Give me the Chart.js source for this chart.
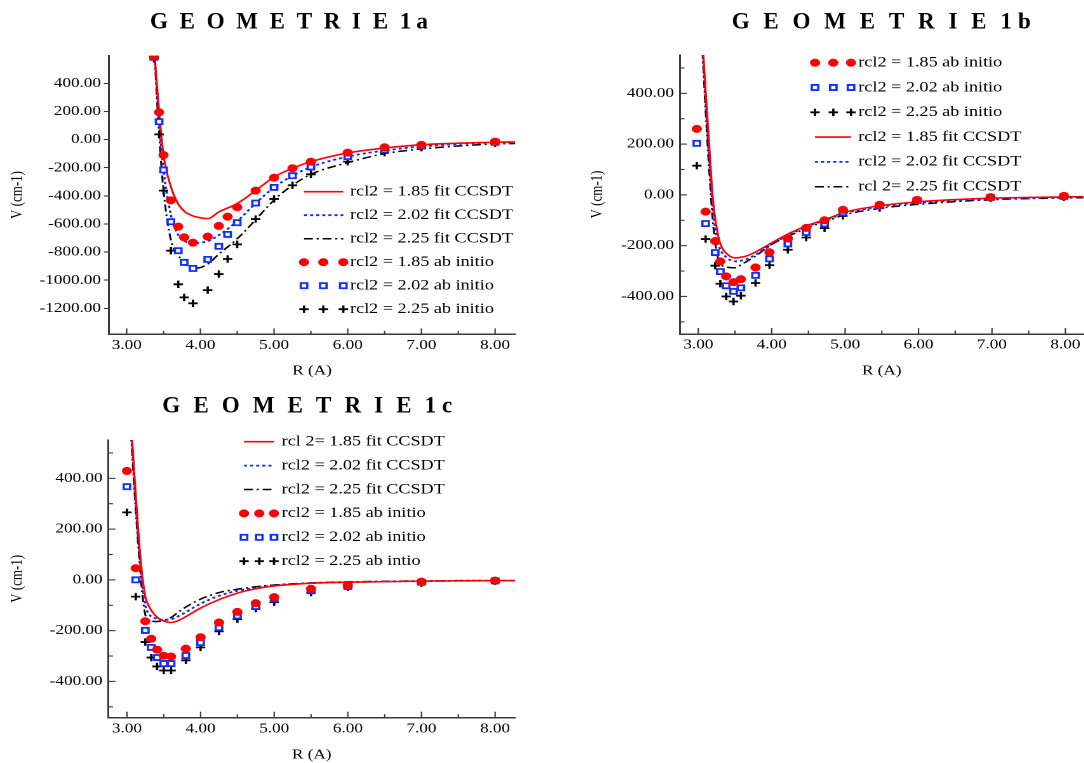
<!DOCTYPE html>
<html>
<head>
<meta charset="utf-8">
<script src="https://cdn.jsdelivr.net/npm/chart.js@4.4.1/dist/chart.umd.min.js"></script>
<style>
  html, body { margin: 0; padding: 0; background: #fff; width: 1084px; height: 763px; overflow: hidden; }
  body { position: relative; }
  .panel { position: absolute; }
  .panel canvas { display: block; transform-origin: 0 0; }
</style>
</head>
<body>
<div id="p1a" class="panel"></div>
<div id="p1b" class="panel"></div>
<div id="p1c" class="panel"></div>
<script>
// ---------- Geometrie 1a ----------
const R_1A_ABINIT = [3.37, 3.44, 3.50, 3.60, 3.70, 3.78, 3.90, 4.10, 4.25, 4.37, 4.50, 4.75, 5.00, 5.25, 5.50, 6.00, 6.50, 7.00, 8.00];
const V_1A_ABINIT_185 = [590, 194, -110, -432, -619, -695, -733, -690, -614, -548, -481, -363, -271, -204, -157, -93, -55, -38, -15];
const V_1A_ABINIT_202 = [585, 127, -216, -584, -790, -873, -916, -852, -759, -674, -591, -451, -340, -257, -195, -121, -74, -46, -19];
const V_1A_ABINIT_225 = [575, 37, -363, -790, -1029, -1122, -1164, -1070, -956, -849, -745, -565, -422, -325, -247, -157, -93, -58, -26];
const R_1A_FIT = [3.38, 3.44, 3.50, 3.60, 3.70, 3.80, 3.90, 4.00, 4.10, 4.25, 4.50, 4.75, 5.00, 5.25, 5.50, 6.00, 6.50, 7.00, 8.00, 8.30];
const V_1A_FIT_185 = [590, 198, -110, -335, -458, -517, -543, -556, -562, -515, -455, -363, -266, -204, -157, -95, -60, -36, -19, -17];
const V_1A_FIT_202 = [585, 127, -216, -536, -678, -726, -738, -733, -722, -680, -580, -453, -340, -257, -195, -121, -78, -49, -20, -18];
const V_1A_FIT_225 = [575, 37, -363, -714, -821, -885, -916, -910, -885, -815, -705, -570, -430, -325, -247, -164, -100, -67, -31, -28];

// ---------- Geometrie 1b ----------
const R_1B_ABINIT = [2.98, 3.10, 3.23, 3.30, 3.38, 3.48, 3.58, 3.78, 3.97, 4.22, 4.47, 4.72, 4.97, 5.47, 5.98, 6.98, 7.98];
const V_1B_ABINIT_185 = [260, -66, -182, -262, -321, -344, -332, -286, -226, -172, -130, -100, -59, -39, -20, -9, -4];
const V_1B_ABINIT_202 = [203, -113, -227, -302, -358, -380, -366, -317, -252, -193, -148, -114, -70, -43, -22, -10, -6];
const V_1B_ABINIT_225 = [115, -174, -279, -350, -400, -420, -397, -347, -277, -216, -168, -131, -83, -52, -26, -13, -9];
const R_1B_FIT = [3.00, 3.05, 3.10, 3.15, 3.20, 3.25, 3.30, 3.40, 3.50, 3.60, 3.70, 3.80, 4.00, 4.25, 4.50, 4.75, 5.00, 5.50, 6.00, 7.00, 8.00, 8.30];
const V_1B_FIT_185 = [900, 640, 410, 190, -20, -130, -192, -235, -248, -245, -236, -222, -189, -150, -119, -95, -68, -42, -27, -13, -8, -7];
const V_1B_FIT_202 = [870, 620, 370, 140, -60, -170, -215, -250, -262, -258, -248, -232, -195, -155, -123, -98, -72, -46, -31, -16, -10, -9];
const V_1B_FIT_225 = [850, 600, 330, 90, -110, -225, -270, -285, -287, -272, -255, -237, -195, -160, -128, -103, -78, -52, -37, -19, -12, -11];

// ---------- Geometrie 1c ----------
const R_1C_ABINIT = [3.00, 3.12, 3.25, 3.33, 3.41, 3.50, 3.60, 3.80, 4.00, 4.25, 4.50, 4.75, 5.00, 5.50, 6.00, 7.00, 8.00];
const V_1C_ABINIT_185 = [429, 46, -163, -232, -275, -299, -302, -271, -226, -168, -126, -92, -68, -35, -22, -7, -3];
const V_1C_ABINIT_202 = [367, 0, -199, -266, -306, -330, -330, -298, -247, -188, -142, -105, -76, -43, -26, -9, -4];
const V_1C_ABINIT_225 = [266, -66, -245, -306, -341, -357, -357, -317, -266, -203, -155, -113, -88, -50, -29, -13, -5];
const R_1C_FIT = [3.00, 3.05, 3.10, 3.15, 3.20, 3.25, 3.30, 3.40, 3.50, 3.60, 3.70, 3.80, 4.00, 4.25, 4.50, 4.75, 5.00, 5.50, 6.00, 7.00, 8.00, 8.30];
const V_1C_FIT_185 = [900, 650, 420, 210, 39, -66, -104, -145, -162, -168, -160, -145, -111, -78, -52, -35, -24, -13, -9, -5, -3, -3];
const V_1C_FIT_202 = [880, 630, 390, 180, 10, -100, -135, -153, -157, -155, -143, -127, -94, -63, -43, -32, -22, -13, -9, -5, -3, -3];
const V_1C_FIT_225 = [860, 600, 360, 150, -30, -138, -158, -164, -160, -148, -127, -107, -76, -50, -37, -27, -20, -12, -8, -4, -3, -3];

// Tick positions (labels only on the whole numbers / multiples of 200)
const X_TICKS = [3.0, 3.5, 4.0, 4.5, 5.0, 5.5, 6.0, 6.5, 7.0, 7.5, 8.0];
const Y_TICKS_1A = [-1200, -1000, -800, -600, -400, -200, 0, 200, 400];
const Y_TICKS_1BC = [-500, -400, -300, -200, -100, 0, 100, 200, 300, 400, 500];

// Axis titles
const X_TITLE = 'R (A)';
const Y_TITLE = 'V (cm-1)';

// ---------- drawing setup ----------
const FONT = "'Liberation Serif', 'Times New Roman', Times, serif";
const S = 1.27;            // every panel is drawn narrow and widened by this factor
const AXIS_COLOR = '#3a3a3a';
const RED = '#ff0000', BLUE = '#1030ff', BLACK = '#000000';

const pts = (R, V) => R.map((r, i) => ({ x: r, y: V[i] }));

function abSet(label, R, V, kind) {
  const base = { label, data: pts(R, V), showLine: false, pointHoverRadius: 0 };
  if (kind === 'red') return Object.assign(base, { pointStyle: 'circle', pointRadius: 3.8, pointBorderWidth: 0.5,
    pointBackgroundColor: RED, pointBorderColor: RED, backgroundColor: RED, borderColor: RED });
  if (kind === 'blue') return Object.assign(base, { pointStyle: 'rect', pointRadius: 3.6, pointBorderWidth: 1.8,
    pointBackgroundColor: '#ffffff', pointBorderColor: BLUE, backgroundColor: '#ffffff', borderColor: BLUE });
  return Object.assign(base, { pointStyle: 'cross', pointRadius: 3.7, pointBorderWidth: 1.8,
    pointBackgroundColor: BLACK, pointBorderColor: BLACK, backgroundColor: BLACK, borderColor: BLACK });
}

function fitSet(label, R, V, kind) {
  const styles = {
    red:   { borderColor: RED,   borderDash: [],            borderWidth: 1.6 },
    blue:  { borderColor: '#0a28ff', borderDash: [2.4, 2.4], borderWidth: 1.8 },
    black: { borderColor: BLACK, borderDash: [7, 3, 1.6, 3], borderWidth: 1.5 }
  };
  return Object.assign({ label, data: pts(R, V), showLine: true, pointRadius: 0, pointHoverRadius: 0,
    fill: false, cubicInterpolationMode: 'monotone' }, styles[kind]);
}

// Spaced bold heading above each panel, kept at natural width despite the widening
const spacedTitle = {
  id: 'spacedTitle',
  afterDraw(chart, args, o) {
    const ctx = chart.ctx;
    ctx.save();
    ctx.translate(o.x, o.y);
    ctx.scale(1 / S, 1);
    ctx.font = 'bold 23px ' + FONT;
    ctx.fillStyle = '#000';
    ctx.textBaseline = 'alphabetic';
    ctx.textAlign = 'left';
    const natural = ctx.measureText(o.word).width;
    if ('letterSpacing' in ctx) {
      ctx.letterSpacing = o.spacing + 'px';
      ctx.fillText(o.word, 0, 0);
      const w = natural + o.word.length * o.spacing;
      ctx.letterSpacing = (o.spacing * 0.45) + 'px';
      ctx.fillText(o.tag, w, 0);
      ctx.letterSpacing = '0px';
    } else {
      let x = 0;
      for (const ch of o.word) { ctx.fillText(ch, x, 0); x += ctx.measureText(ch).width + o.spacing; }
      ctx.fillText(o.tag, x, 0);
    }
    ctx.restore();
  }
};

// Tick marks pointing into the plot
const innerTicks = {
  id: 'innerTicks',
  afterDatasetsDraw(chart, args, o) {
    const ctx = chart.ctx, area = chart.chartArea;
    const xs = chart.scales.x, ys = chart.scales.y;
    ctx.save();
    ctx.strokeStyle = AXIS_COLOR;
    ctx.lineWidth = 1.1;
    xs.ticks.forEach(t => {
      const px = xs.getPixelForValue(t.value);
      const len = Number.isInteger(t.value) ? 6 : 3.5;
      ctx.beginPath(); ctx.moveTo(px, area.bottom); ctx.lineTo(px, area.bottom - len); ctx.stroke();
    });
    if (o.yInner) {
      ys.ticks.forEach(t => {
        const py = ys.getPixelForValue(t.value);
        const len = (Math.round(t.value) % 200 === 0 ? 7 : 4.5) / S;
        ctx.beginPath(); ctx.moveTo(area.left, py); ctx.lineTo(area.left + len, py); ctx.stroke();
      });
    }
    ctx.restore();
  }
};

// Legend with three markers or a line sample per entry
const sampleLegend = {
  id: 'sampleLegend',
  afterDraw(chart, args, o) {
    const ctx = chart.ctx;
    ctx.save();
    ctx.font = '14.3px ' + FONT;
    ctx.textBaseline = 'middle';
    ctx.textAlign = 'left';
    o.order.forEach((di, i) => {
      const ds = chart.data.datasets[di];
      const y = o.y + i * o.dy;
      if (ds.showLine) {
        ctx.save();
        ctx.strokeStyle = ds.borderColor;
        ctx.lineWidth = ds.borderWidth;
        ctx.setLineDash(ds.borderDash || []);
        ctx.beginPath(); ctx.moveTo(o.line[0], y); ctx.lineTo(o.line[1], y); ctx.stroke();
        ctx.restore();
      } else {
        o.marks.forEach(mx => {
          ctx.save();
          ctx.fillStyle = ds.pointBackgroundColor;
          ctx.strokeStyle = ds.pointBorderColor;
          ctx.lineWidth = ds.pointBorderWidth;
          Chart.helpers.drawPoint(ctx, { pointStyle: ds.pointStyle, radius: ds.pointRadius,
            borderWidth: ds.pointBorderWidth, rotation: 0 }, mx, y);
          ctx.restore();
        });
      }
      ctx.fillStyle = '#000';
      ctx.fillText(ds.label, o.text, y);
    });
    ctx.restore();
  }
};

function buildPanel(P) {
  const wrap = document.getElementById(P.id);
  wrap.style.left = P.box.left + 'px';
  wrap.style.top = P.box.top + 'px';
  const cv = document.createElement('canvas');
  const preW = Math.round(P.box.width / S);
  cv.width = preW;
  cv.height = P.box.height;
  cv.style.transform = 'scaleX(' + S + ')';
  wrap.appendChild(cv);

  const px = sx => (sx - P.box.left) / S;     // page x -> canvas x
  const py = sy => sy - P.box.top;            // page y -> canvas y
  const yAxisW = px(P.plot.left);
  const xAxisH = P.box.top + P.box.height - P.plot.bottom;
  const padRight = Math.max(0, preW - px(P.plot.right));

  const datasets = [
    abSet(P.labels[0], P.abR, P.ab[0], 'red'),
    abSet(P.labels[1], P.abR, P.ab[1], 'blue'),
    abSet(P.labels[2], P.abR, P.ab[2], 'black'),
    fitSet(P.labels[3], P.fitR, P.fit[0], 'red'),
    fitSet(P.labels[4], P.fitR, P.fit[1], 'blue'),
    fitSet(P.labels[5], P.fitR, P.fit[2], 'black')
  ];

  new Chart(cv, {
    type: 'scatter',
    data: { datasets },
    plugins: [innerTicks, sampleLegend, spacedTitle],
    options: {
      responsive: false,
      animation: false,
      devicePixelRatio: 2,
      events: [],
      layout: { autoPadding: false, padding: { left: 0, top: py(P.plot.top), right: padRight, bottom: 0 } },
      plugins: {
        legend: { display: false },
        title: { display: false },
        tooltip: { enabled: false },
        innerTicks: { yInner: P.yInner },
        sampleLegend: {
          order: P.legend.order,
          marks: P.legend.marks.map(px),
          line: P.legend.line.map(px),
          text: px(P.legend.text),
          y: py(P.legend.y),
          dy: P.legend.dy
        },
        spacedTitle: { word: 'GEOMETRIE', tag: P.tag, x: px(P.title.x), y: py(P.title.base), spacing: P.title.spacing }
      },
      scales: {
        x: {
          type: 'linear', position: 'bottom', bounds: 'data',
          min: P.xRange[0], max: P.xRange[1],
          border: { display: true, color: AXIS_COLOR, width: 1.5 },
          grid: { display: true, drawOnChartArea: false, drawTicks: false },
          afterBuildTicks: s => { s.ticks = X_TICKS.map(v => ({ value: v })); },
          ticks: {
            autoSkip: false, maxRotation: 0, minRotation: 0,
            padding: 3, color: '#000', font: { family: FONT, size: 13.5 },
            callback: v => Number.isInteger(v) ? v.toFixed(2) : ''
          },
          title: { display: true, text: X_TITLE, color: '#000', font: { family: FONT, size: 13.5 },
            padding: { top: 0, bottom: P.xTitlePad } },
          afterFit: s => { s.height = xAxisH; }
        },
        y: {
          type: 'linear', position: 'left', bounds: 'data',
          min: P.yRange[0], max: P.yRange[1],
          border: { display: true, color: AXIS_COLOR, width: 1.5 },
          grid: { display: true, drawOnChartArea: false, drawTicks: !P.yInner, tickLength: 4, tickColor: AXIS_COLOR, tickWidth: 1.1 },
          afterBuildTicks: s => { s.ticks = P.yTicks.map(v => ({ value: v })); },
          ticks: {
            autoSkip: false,
            padding: P.yInner ? 4.7 : 2.3, color: '#000', font: { family: FONT, size: 13.5 },
            callback: v => (Math.round(v) % 200 === 0) ? v.toFixed(2) : ''
          },
          title: { display: true, text: Y_TITLE, color: '#000', font: { family: FONT, size: 13 },
            padding: { top: 5.6, bottom: 0 } },
          afterFit: s => { s.width = yAxisW; }
        }
      }
    }
  });
}

const PANELS = [
  {
    id: 'p1a', tag: '1a',
    box: { left: 0, top: 0, width: 520, height: 385 },
    plot: { left: 109, right: 515, top: 55.6, bottom: 334.4 },
    xRange: [2.76, 8.27], yRange: [-1385, 597], yTicks: Y_TICKS_1A, yInner: false, xTitlePad: 5.9,
    title: { x: 150, base: 28.3, spacing: 11.7 },
    labels: ['rcl2 = 1.85 ab initio', 'rcl2 = 2.02 ab initio', 'rcl2 = 2.25 ab initio',
             'rcl2 = 1.85 fit CCSDT', 'rcl2 = 2.02 fit CCSDT', 'rcl2 = 2.25 fit CCSDT'],
    abR: R_1A_ABINIT, ab: [V_1A_ABINIT_185, V_1A_ABINIT_202, V_1A_ABINIT_225],
    fitR: R_1A_FIT, fit: [V_1A_FIT_185, V_1A_FIT_202, V_1A_FIT_225],
    legend: { order: [3, 4, 5, 0, 1, 2], marks: [304, 323.3, 343.3], line: [304, 343.3], text: 350, y: 191.7, dy: 23.5 }
  },
  {
    id: 'p1b', tag: '1b',
    box: { left: 580, top: 0, width: 504, height: 385 },
    plot: { left: 680, right: 1084, top: 55, bottom: 334 },
    xRange: [2.751, 8.245], yRange: [-548, 551], yTicks: Y_TICKS_1BC, yInner: true, xTitlePad: 5.9,
    title: { x: 731.7, base: 28.3, spacing: 13.8 },
    labels: ['rcl2 = 1.85 ab initio', 'rcl2 = 2.02 ab initio', 'rcl2 = 2.25 ab initio',
             'rcl2 = 1.85 fit CCSDT', 'rcl2 = 2.02 fit CCSDT', 'rcl 2= 2.25 fit CCSDT'],
    abR: R_1B_ABINIT, ab: [V_1B_ABINIT_185, V_1B_ABINIT_202, V_1B_ABINIT_225],
    fitR: R_1B_FIT, fit: [V_1B_FIT_185, V_1B_FIT_202, V_1B_FIT_225],
    legend: { order: [0, 1, 2, 3, 4, 5], marks: [815, 833.3, 851], line: [815, 851], text: 858.3, y: 62.7, dy: 24.8 }
  },
  {
    id: 'p1c', tag: '1c',
    box: { left: 0, top: 388, width: 520, height: 375 },
    plot: { left: 108.5, right: 515, top: 440, bottom: 717.7 },
    xRange: [2.75, 8.27], yRange: [-543, 551], yTicks: Y_TICKS_1BC, yInner: true, xTitlePad: 0,
    title: { x: 162.3, base: 412.7, spacing: 13.1 },
    labels: ['rcl2 = 1.85 ab initio', 'rcl2 = 2.02 ab initio', 'rcl2 = 2.25 ab intio',
             'rcl 2= 1.85 fit CCSDT', 'rcl2 = 2.02 fit CCSDT', 'rcl2 = 2.25 fit CCSDT'],
    abR: R_1C_ABINIT, ab: [V_1C_ABINIT_185, V_1C_ABINIT_202, V_1C_ABINIT_225],
    fitR: R_1C_FIT, fit: [V_1C_FIT_185, V_1C_FIT_202, V_1C_FIT_225],
    legend: { order: [3, 4, 5, 0, 1, 2], marks: [244, 259.3, 274], line: [244, 274], text: 281.7, y: 441.7, dy: 23.9 }
  }
];

PANELS.forEach(buildPanel);
</script>
</body>
</html>
